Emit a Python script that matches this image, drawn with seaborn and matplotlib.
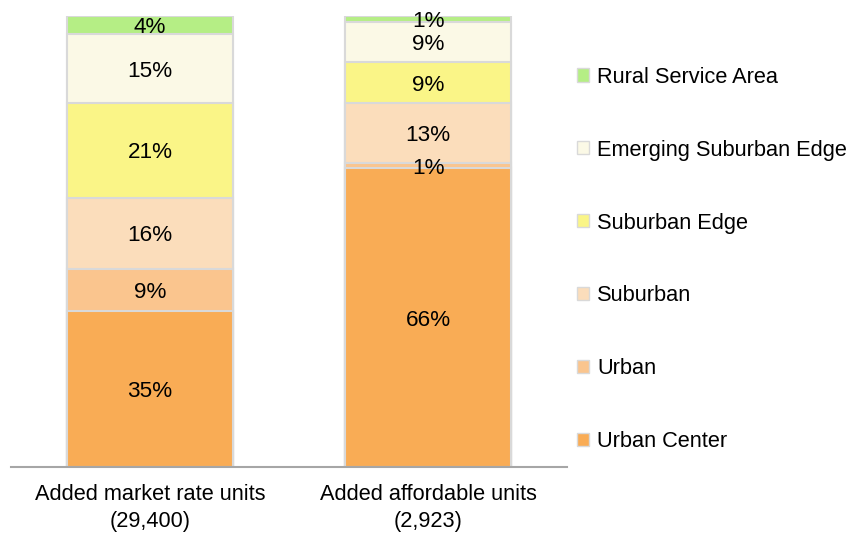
import matplotlib

matplotlib.use("Agg")
import matplotlib.pyplot as plt
import numpy as np
import pandas as pd
import seaborn as sns
from matplotlib.patches import Patch

# bottom -> top
zones = ["Urban Center", "Urban", "Suburban", "Suburban Edge",
         "Emerging Suburban Edge", "Rural Service Area"]
colors = ["#F9AC55", "#FAC58E", "#FBDDBB", "#FAF587", "#FBF9E6", "#B5EE85"]
groups = ["Added market rate units\n(29,400)", "Added affordable units\n(2,923)"]
market_rate = [34.6, 9.4, 15.7, 21.1, 15.1, 4.1]
affordable = [66.2, 1.2, 13.3, 9.1, 8.9, 1.3]


def main() -> None:
    sns.set_theme(style="white")
    plt.rcParams["font.family"] = ["Liberation Sans", "DejaVu Sans"]
    plt.rcParams["text.color"] = "black"
    fs = 15.7

    shares = pd.DataFrame({groups[0]: market_rate, groups[1]: affordable}, index=zones)
    cum = shares.cumsum()

    fig = plt.figure(figsize=(8.49, 5.35), dpi=100)
    ax = fig.add_axes([11 / 849, 1 - 467 / 535, 556 / 849, 451 / 535])

    # draw tallest cumulative layer first so lower layers paint over it
    for i in range(len(zones) - 1, -1, -1):
        layer = pd.DataFrame({"group": groups, "top": cum.iloc[i].values})
        sns.barplot(data=layer, x="group", y="top", order=groups, color=colors[i],
                    saturation=1, width=0.6, edgecolor="#D9D9D9", linewidth=1.5,
                    ax=ax)

    for j, g in enumerate(groups):
        bottoms = np.concatenate([[0], cum[g].values[:-1]])
        for val, b in zip(shares[g].values, bottoms):
            ax.text(j, b + val / 2, f"{round(val):d}%", ha="center",
                    va="center_baseline", fontsize=fs + 0.5, color="black")

    ax.set_xlim(-0.5, 1.5)
    ax.set_ylim(0, 100)
    ax.set_xlabel("")
    ax.set_ylabel("")
    ax.set_yticks([])
    ax.tick_params(axis="x", length=0, labelsize=fs, pad=12, labelcolor="black")
    for lbl in ax.get_xticklabels():
        lbl.set_linespacing(1.42)
    for side in ["top", "right", "left"]:
        ax.spines[side].set_visible(False)
    ax.spines["bottom"].set_color("#A6A6A6")
    ax.spines["bottom"].set_linewidth(1.5)

    handles = [Patch(facecolor=c, edgecolor="#D9D9D9", linewidth=1, label=z)
               for z, c in zip(zones, colors)][::-1]
    fig.legend(handles=handles, loc="upper left", bbox_to_anchor=(568 / 849, 1 - 58 / 535),
               frameon=False, fontsize=fs, handlelength=0.55, handleheight=0.55,
               handletextpad=0.4, labelspacing=2.38, borderaxespad=0)

    fig.savefig("out.png", dpi=100)
    plt.close(fig)


if __name__ == "__main__":
    main()
